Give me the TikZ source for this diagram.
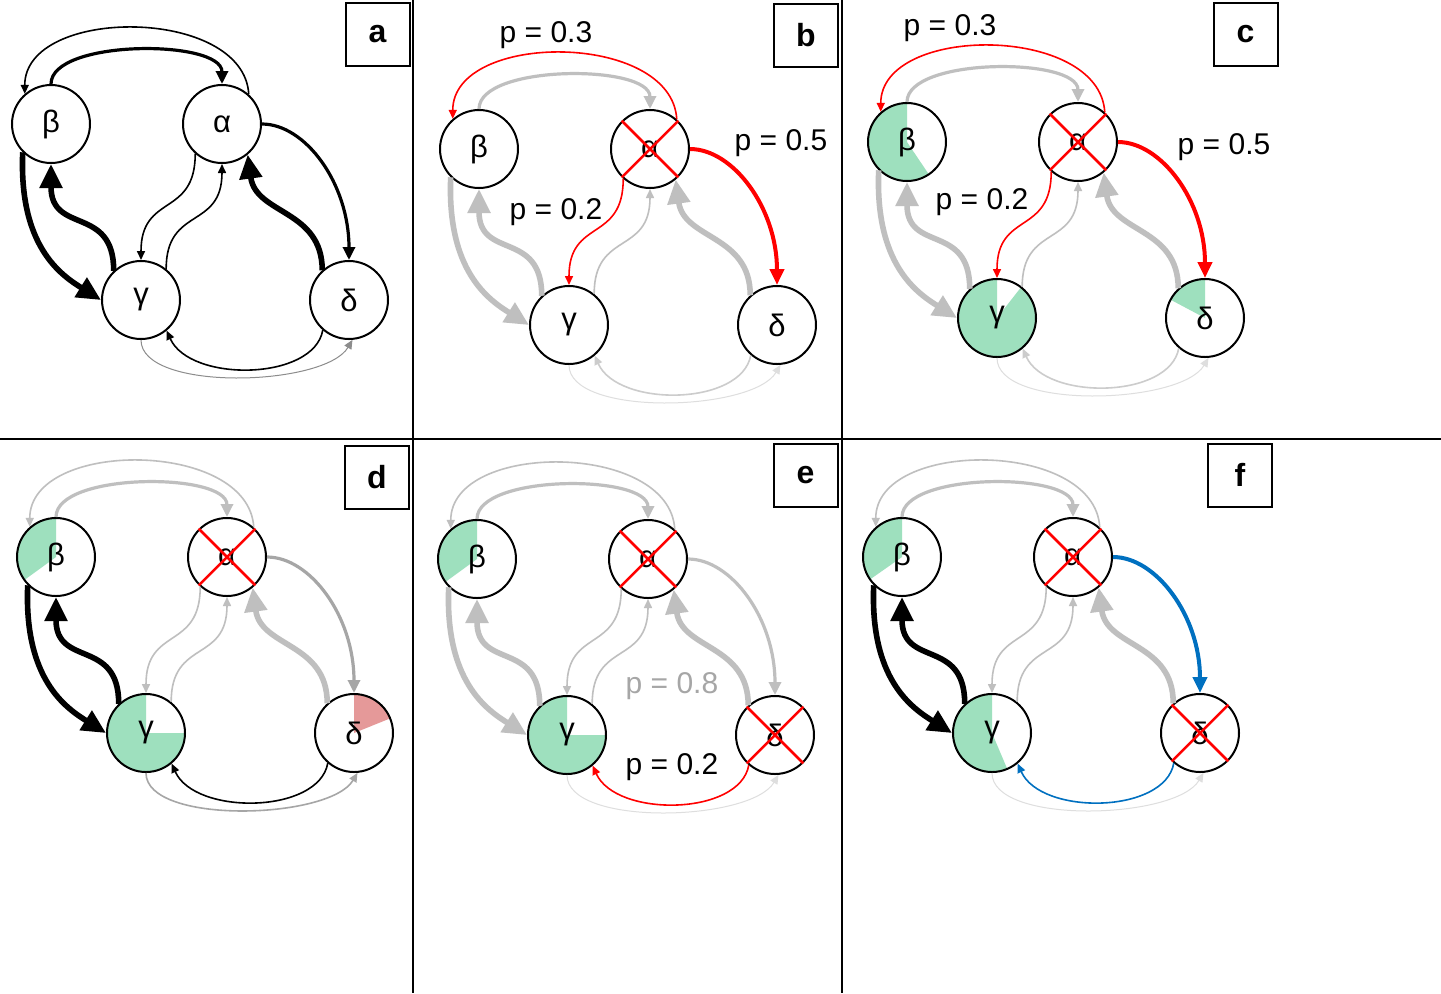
\documentclass[tikz,border=0pt]{standalone}
\usepackage{fontspec}
\setmainfont{Liberation Sans}
\usetikzlibrary{arrows.meta}
\definecolor{lg}{RGB}{191,191,191}
\definecolor{lgb}{RGB}{204,204,204}
\definecolor{vlg}{RGB}{222,222,222}
\definecolor{mg}{RGB}{166,166,166}
\definecolor{dg}{RGB}{140,140,140}
\definecolor{grn}{RGB}{158,224,190}
\definecolor{pnk}{RGB}{229,153,153}
\definecolor{rd}{RGB}{255,0,0}
\definecolor{blu}{RGB}{0,112,192}
\tikzset{
  nd/.style={circle, draw=black, line width=1pt, minimum size=39pt, inner sep=0pt, font=\fontsize{15.5}{18}\selectfont},
  wThin/.style={line width=0.8pt, -{Triangle[length=4.5pt,width=4pt]}},
  wVthin/.style={line width=0.5pt, -{Triangle[length=4.5pt,width=4pt]}},
  wMed/.style={line width=1.6pt, -{Triangle[length=6.5pt,width=6pt]}},
  wMedP/.style={line width=2pt, -{Triangle[length=8pt,width=7pt]}},
  wBig/.style={line width=2.8pt, -{Triangle[length=12pt,width=11pt]}},
  xline/.style={draw=rd, line width=1.25pt},
  labbox/.style={draw, line width=1pt, minimum width=32pt, minimum height=31.5pt, inner sep=0pt, font=\fontsize{16}{19}\selectfont\bfseries},
  plab/.style={font=\fontsize{15}{18}\selectfont, inner sep=0pt},
}
\newcommand\pie[5]{\fill[#1] (#2,#3) -- +({39*cos(#4)},{-39*sin(#4)}) arc[start angle={-#4}, end angle={-#5}, radius=39] -- cycle;}
\newcommand\crossnode[1]{\draw[xline] (#1.135) -- (#1.315) (#1.45) -- (#1.225);}
\newcommand\network[1]{%
  \node[nd] (#1b) at (0,0) {β};
  \node[nd] (#1a) at (171,0) {α};
  \node[nd] (#1g) at (90,176) {γ};
  \node[nd] (#1d) at (298,176) {δ};
  \draw[e10] (#1g.270) .. controls +(0,52) and +(-28,47) .. (#1d.275);
  \draw[e9] (#1d.229) .. controls +(-9,51) and +(23,52) .. (#1g.310);
  \draw[e1] (#1b.90) .. controls +(0,-45) and +(0,-45) .. (#1a.90);
  \draw[e2] (#1a.48) .. controls +(-5,-88) and +(0,-88) .. (#1b.131);
  \draw[e5] (#1a.228) .. controls +(0,64) and +(0,-67) .. (#1g.90);
  \draw[e6] (#1g.51) .. controls +(0,-63) and +(0,66) .. (#1a.270);
  \draw[e8] (#1a.0) .. controls +(43,0) and +(0,-77) .. (#1d.90);
  \draw[e3] (#1b.225) .. controls +(-4,94) and +(-40,-25) .. (#1g.180);
  \draw[e4] (#1g.133) .. controls +(0,-66) and +(0,71) .. (#1b.270);
  \draw[e7] (#1d.132) .. controls +(0,-61) and +(8,60) .. (#1a.310);
}
\begin{document}
\begin{tikzpicture}[x=0.5pt, y=-0.5pt]
\fill[white] (0,0) rectangle (1441,993);
\useasboundingbox (0,0) rectangle (1441,993);
% dividers
\draw[line width=1pt] (413,0) -- (413,993) (842,0) -- (842,993) (0,439) -- (1441,439);
% label boxes
\node[labbox] (boxa) at (377.5,34.5) {a};
\node[labbox] (boxb) at (806,35) {b};
\node[labbox] (boxc) at (1245.5,34) {c};
\node[labbox] (boxd) at (377,477) {d};
\node[labbox] (boxe) at (805.5,475.5) {e};
\node[labbox] (boxf) at (1240,475) {f};
% panel a
\begin{scope}[shift={(51,124)},
  e1/.style={wMed,black}, e2/.style={wThin,black}, e3/.style={wBig,black},
  e4/.style={wBig,black}, e5/.style={wThin,black}, e6/.style={wThin,black},
  e7/.style={wBig,black}, e8/.style={wMed,black}, e9/.style={wThin,black},
  e10/.style={wVthin,dg}]
  \network{pa}
\end{scope}
% panel b
\begin{scope}[shift={(479,149)},
  e1/.style={wMed,lg}, e2/.style={wThin,rd}, e3/.style={wBig,lg},
  e4/.style={wBig,lg}, e5/.style={wThin,rd}, e6/.style={wThin,lg},
  e7/.style={wBig,lg}, e8/.style={wMedP,rd}, e9/.style={wThin,lgb},
  e10/.style={wVthin,vlg}]
  \network{pb}
  \crossnode{pba}
\end{scope}
% panel c
\begin{scope}[shift={(907,142)},
  e1/.style={wMed,lg}, e2/.style={wThin,rd}, e3/.style={wBig,lg},
  e4/.style={wBig,lg}, e5/.style={wThin,rd}, e6/.style={wThin,lg},
  e7/.style={wBig,lg}, e8/.style={wMedP,rd}, e9/.style={wThin,lgb},
  e10/.style={wVthin,vlg}]
  \pie{grn}{0}{0}{90}{304}
  \pie{grn}{90}{176}{90}{412}
  \pie{grn}{298}{176}{90}{152}
  \network{pc}
  \crossnode{pca}
\end{scope}
% panel d
\begin{scope}[shift={(56,557)},
  e1/.style={wMed,lg}, e2/.style={wThin,lg}, e3/.style={wBig,black},
  e4/.style={wBig,black}, e5/.style={wThin,lg}, e6/.style={wThin,lg},
  e7/.style={wBig,lg}, e8/.style={wMed,mg}, e9/.style={wThin,black},
  e10/.style={wThin,mg}]
  \pie{grn}{0}{0}{90}{216}
  \pie{grn}{90}{176}{90}{360}
  \pie{pnk}{298}{176}{22}{90}
  \network{pd}
  \crossnode{pda}
\end{scope}
% panel e
\begin{scope}[shift={(477,559)},
  e1/.style={wMed,lg}, e2/.style={wThin,lg}, e3/.style={wBig,lg},
  e4/.style={wBig,lg}, e5/.style={wThin,lg}, e6/.style={wThin,lg},
  e7/.style={wBig,lg}, e8/.style={wMed,lg}, e9/.style={wThin,rd},
  e10/.style={wVthin,vlg}]
  \pie{grn}{0}{0}{90}{216}
  \pie{grn}{90}{176}{90}{360}
  \network{pe}
  \crossnode{pea}
  \crossnode{ped}
\end{scope}
% panel f
\begin{scope}[shift={(902,557)},
  e1/.style={wMed,lg}, e2/.style={wThin,lg}, e3/.style={wBig,black},
  e4/.style={wBig,black}, e5/.style={wThin,lg}, e6/.style={wThin,lg},
  e7/.style={wBig,lg}, e8/.style={wMedP,blu}, e9/.style={wThin,blu},
  e10/.style={wVthin,vlg}]
  \pie{grn}{0}{0}{90}{215}
  \pie{grn}{90}{176}{90}{293}
  \network{pf}
  \crossnode{pfa}
  \crossnode{pfd}
\end{scope}
% probability labels
\node[plab] (lb1) at (546,35) {p = 0.3};
\node[plab] (lb2) at (781,143) {p = 0.5};
\node[plab] (lb3) at (556,212) {p = 0.2};
\node[plab] (lc1) at (950,28) {p = 0.3};
\node[plab] (lc2) at (1224,147) {p = 0.5};
\node[plab] (lc3) at (982,202) {p = 0.2};
\node[plab, text=mg] (le1) at (672,686) {p = 0.8};
\node[plab] (le2) at (672,767) {p = 0.2};
\end{tikzpicture}
\end{document}
